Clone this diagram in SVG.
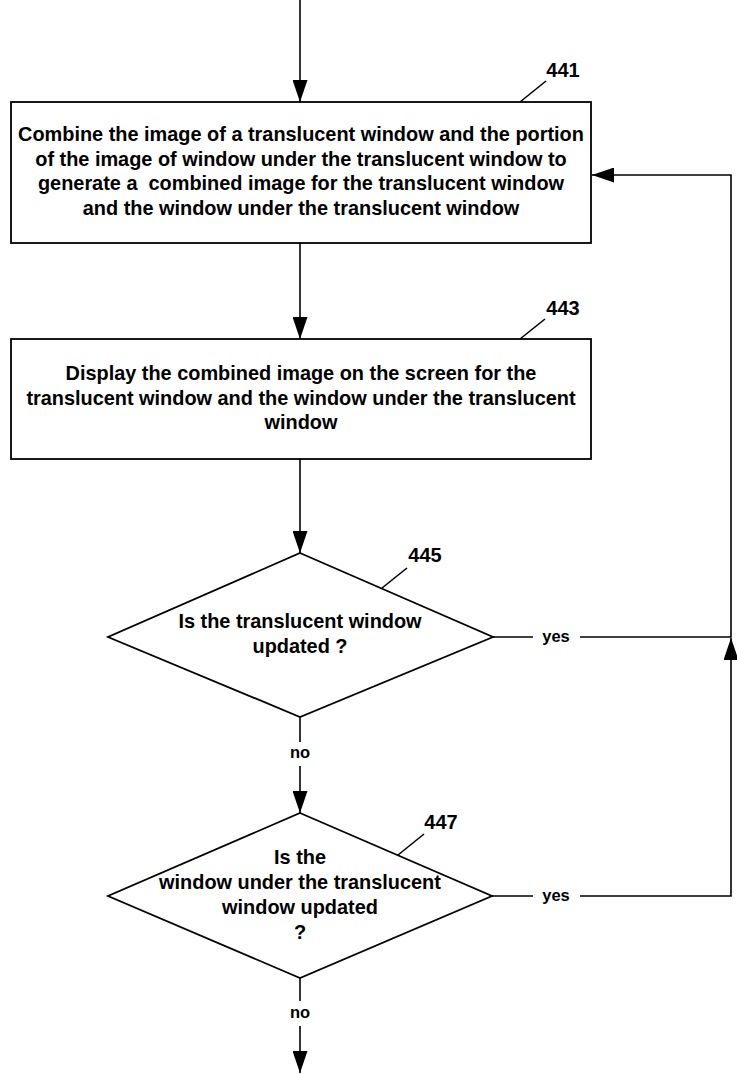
<svg xmlns="http://www.w3.org/2000/svg" width="737" height="1074" viewBox="0 0 737 1074">
<style>
.shape{fill:#fff;stroke:#000;stroke-width:1.8}
.line{fill:none;stroke:#000;stroke-width:1.6}
.t{font-family:"Liberation Sans",Arial,sans-serif;font-weight:bold;font-size:19.9px;fill:#000;text-anchor:middle;white-space:pre}
.ref{font-family:"Liberation Sans",Arial,sans-serif;font-weight:bold;font-size:20px;fill:#000;text-anchor:middle}
.small{font-family:"Liberation Sans",Arial,sans-serif;font-weight:bold;font-size:16.5px;fill:#000;text-anchor:middle}
</style>
<defs>
<marker id="ah" viewBox="0 0 22 15" refX="22" refY="7.5" markerWidth="22" markerHeight="15" markerUnits="userSpaceOnUse" orient="auto">
<path d="M0,0 L22,7.5 L0,15 z" fill="#000"/>
</marker>
</defs>
<g id="connectors">
<line class="line" x1="300" y1="0" x2="300" y2="102" marker-end="url(#ah)"/>
<line class="line" x1="300" y1="243" x2="300" y2="339" marker-end="url(#ah)"/>
<line class="line" x1="300" y1="459" x2="300" y2="553" marker-end="url(#ah)"/>
<line class="line" x1="300" y1="717" x2="300" y2="742"/>
<text class="small" x="300" y="758">no</text>
<line class="line" x1="300" y1="766" x2="300" y2="813" marker-end="url(#ah)"/>
<line class="line" x1="300" y1="978" x2="300" y2="1001"/>
<text class="small" x="300" y="1018">no</text>
<line class="line" x1="300" y1="1026" x2="300" y2="1073" marker-end="url(#ah)"/>
<line class="line" x1="493" y1="637" x2="533" y2="637"/>
<text class="small" x="556" y="642">yes</text>
<polyline class="line" points="580,637 731,637 731,175 592,175" marker-end="url(#ah)"/>
<line class="line" x1="492" y1="896" x2="533" y2="896"/>
<text class="small" x="556" y="901">yes</text>
<polyline class="line" points="580,896 731,896 731,638" marker-end="url(#ah)"/>
</g>
<g id="node441">
<rect class="shape" x="11" y="102" width="580" height="141"/>
<text class="t" x="301" y="141">Combine the image of a translucent window and the portion</text>
<text class="t" x="301" y="165.5">of the image of window under the translucent window to</text>
<text class="t" x="301" y="190">generate a  combined image for the translucent window</text>
<text class="t" x="301" y="214.5">and the window under the translucent window</text>
<line class="line" x1="520" y1="102" x2="546" y2="81"/>
<text class="ref" x="563" y="77">441</text>
</g>
<g id="node443">
<rect class="shape" x="11" y="339" width="580" height="120"/>
<text class="t" x="301" y="380">Display the combined image on the screen for the</text>
<text class="t" x="301" y="404.5">translucent window and the window under the translucent</text>
<text class="t" x="301" y="429">window</text>
<line class="line" x1="520" y1="339" x2="545" y2="319"/>
<text class="ref" x="563" y="315">443</text>
</g>
<g id="node445">
<polygon class="shape" points="300,553 493,637 300,717 108,637"/>
<text class="t" x="300" y="628">Is the translucent window</text>
<text class="t" x="300" y="653">updated ?</text>
<line class="line" x1="382" y1="588" x2="407" y2="568"/>
<text class="ref" x="425" y="562">445</text>
</g>
<g id="node447">
<polygon class="shape" points="300,813 492,896 300,978 108,896"/>
<text class="t" x="300" y="864">Is the</text>
<text class="t" x="300" y="889">window under the translucent</text>
<text class="t" x="300" y="914">window updated</text>
<text class="t" x="300" y="939">?</text>
<line class="line" x1="398" y1="855" x2="424" y2="834"/>
<text class="ref" x="441" y="829">447</text>
</g>
</svg>
